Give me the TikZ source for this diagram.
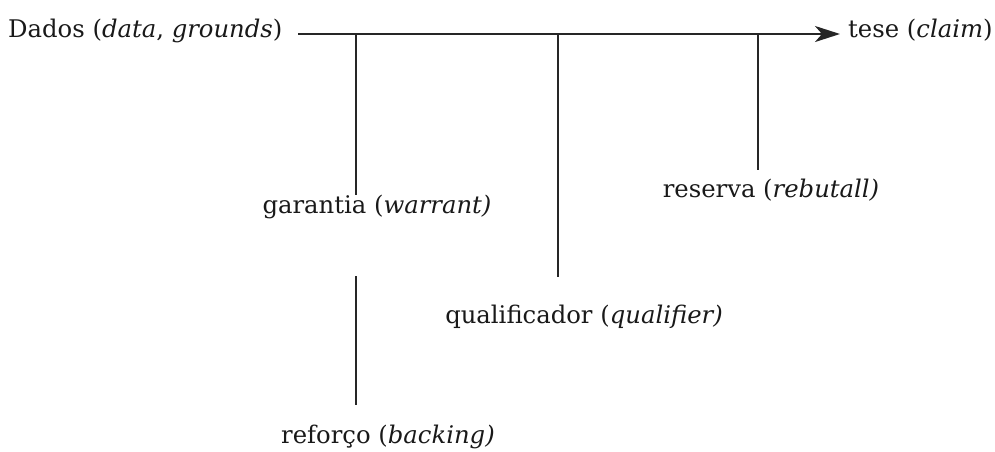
\documentclass[tikz,border=0pt]{standalone}
\usepackage{fontspec}
\setmainfont{DejaVu Serif}
\usetikzlibrary{arrows.meta}
\begin{document}
\begin{tikzpicture}[x=1pt,y=-1pt,
  lbl/.style={inner sep=0pt,text=black!90,font=\fontsize{24.3}{28}\selectfont},
  link/.style={line width=2.4pt,black!85},
  mainarrow/.style={link,-{Stealth[length=25pt,width=16pt,inset=7pt]}}]
  \useasboundingbox (0,0) rectangle (995,451);

  % labels
  \node[lbl,anchor=base west] (dados) at (8,37) {Dados (\textit{data}, \textit{grounds})};
  \node[lbl,anchor=base west] (tese) at (848,37) {tese (\textit{claim})};
  \node[lbl,anchor=base] (garantia) at (377,213) {garantia (\textit{warrant)}};
  \node[lbl,anchor=base] (reforco) at (388,443) {reforço (\textit{backing)}};
  \node[lbl,anchor=base] (qualif) at (584,323) {qualificador (\textit{qualifier)}};
  \node[lbl,anchor=base] (reserva) at (771,197) {reserva (\textit{rebutall)}};

  % junctions on the main line and free ends of the branches
  \coordinate (start) at (298,34);
  \coordinate (tip) at (840,34);
  \coordinate (jw) at (356,34);
  \coordinate (jq) at (558,34);
  \coordinate (jr) at (758,34);
  \coordinate (ew) at (356,195);
  \coordinate (eq) at (558,277);
  \coordinate (er) at (758,170);
  \coordinate (btop) at (356,276);
  \coordinate (bbot) at (356,405);

  % main argument line
  \draw[mainarrow] (start) -- (tip);

  % branches
  \draw[link] (jw) -- (ew);
  \draw[link] (jq) -- (eq);
  \draw[link] (jr) -- (er);
  \draw[link] (btop) -- (bbot);
\end{tikzpicture}
\end{document}
